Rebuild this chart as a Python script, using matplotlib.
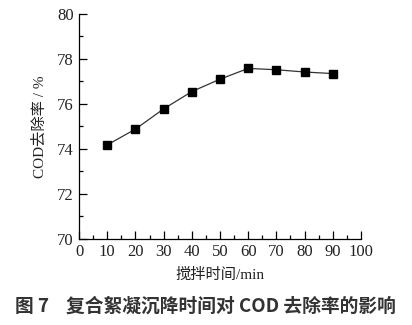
import matplotlib
matplotlib.use('Agg')
import matplotlib.pyplot as plt
from matplotlib.ticker import MultipleLocator

# stirring time (min) and COD removal rate (%)
time_min = [10, 20, 30, 40, 50, 60, 70, 80, 90]
cod_removal = [74.18, 74.88, 75.78, 76.55, 77.1, 77.58, 77.52, 77.42, 77.35]

x_label = '搅拌时间/min'
y_label = 'COD去除率 / %'
caption = '图 7    复合絮凝沉降时间对 COD 去除率的影响'

serif = ['Liberation Serif', 'Noto Sans CJK SC']
cjk = ['Noto Sans CJK SC', 'DejaVu Sans']

fig = plt.figure(figsize=(4.12, 3.25), dpi=100)
ax = fig.add_axes([0.192, 0.265, 0.684, 0.692])

ax.plot(time_min, cod_removal, color='#333333', linewidth=0.9,
        marker='s', markersize=6, markerfacecolor='black', markeredgecolor='black')

ax.set_xlim(0, 100)
ax.set_ylim(70, 80)
ax.xaxis.set_major_locator(MultipleLocator(10))
ax.xaxis.set_minor_locator(MultipleLocator(5))
ax.yaxis.set_major_locator(MultipleLocator(2))
ax.yaxis.set_minor_locator(MultipleLocator(1))
ax.tick_params(which='major', direction='in', length=6, width=0.9, pad=4, labelsize=12)
ax.tick_params(which='minor', direction='in', length=3, width=0.9)
for lab in ax.get_xticklabels() + ax.get_yticklabels():
    lab.set_family(serif)
    lab.set_color('#222222')

ax.spines['top'].set_visible(False)
ax.spines['right'].set_visible(False)
ax.spines['left'].set_linewidth(0.9)
ax.spines['bottom'].set_linewidth(0.9)

ax.set_xlabel(x_label, family=serif, fontsize=11, labelpad=5, color='#222222')
ax.set_ylabel(y_label, family=serif, fontsize=11, labelpad=7, color='#222222')

fig.text(0.498, 0.058, caption, family=cjk, fontsize=13.5, fontweight='bold',
         color='#333333', ha='center', va='center')

fig.savefig('out.png', dpi=100)
